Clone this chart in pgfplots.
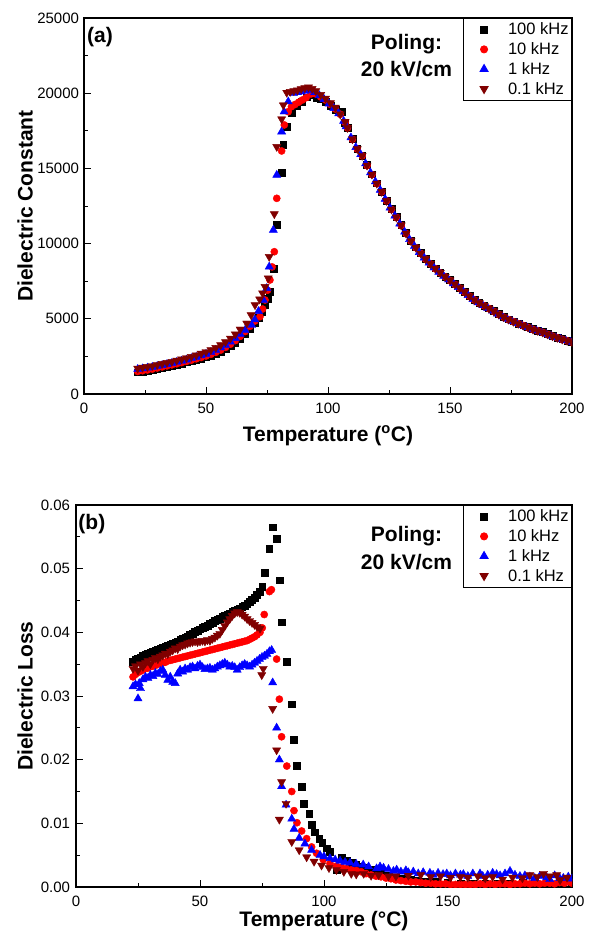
\documentclass[border=0pt]{standalone}
\usepackage{fontspec}
\setmainfont{Liberation Sans}
\usepackage{pgfplots}
\pgfplotsset{compat=1.18}
\definecolor{cred}{RGB}{255,0,0}
\definecolor{cblue}{RGB}{0,0,255}
\definecolor{cbrown}{RGB}{128,0,0}
\pgfplotsset{
  myaxis/.style={
    scale only axis,
    axis line style={line width=1.1pt},
    tick style={line width=0.9pt, black},
    tick align=inside,
    xtick pos=left, ytick pos=left,
    major tick length=7pt, minor tick length=4pt,
    minor x tick num=1, minor y tick num=1,
    xmin=0, xmax=200, xtick={0,50,100,150,200},
    tick label style={font=\fontsize{15}{18}\selectfont},
    /pgf/number format/assume math mode=true,
    xticklabel shift=5.5pt,
    label style={font=\bfseries\fontsize{21}{25}\selectfont},
    legend style={at={(1,1)}, anchor=north east, draw=black, line width=0.8pt,
      inner xsep=1pt, inner ysep=2.5pt, font=\fontsize{16.5}{20}\selectfont,
      nodes={inner sep=2pt}, row sep=2.3pt},
    legend cell align=left,
    legend image code/.code={\path[draw=none,fill=none] (0pt,0pt) -- (42pt,0pt); \draw[##1] plot coordinates {(20pt,0pt)};},
    clip marker paths=true,
  },
  sA/.style={only marks, mark=square*, mark size=3.4pt, draw=black, fill=black, mark options={solid, draw=black, fill=black}},
  sB/.style={only marks, mark=*, mark size=3.6pt, draw=cred, fill=cred, mark options={solid, draw=cred, fill=cred}},
  sC/.style={only marks, mark=triangle*, mark size=4.7pt, draw=cblue, fill=cblue, mark options={solid, draw=cblue, fill=cblue}},
  sD/.style={only marks, mark=triangle*, mark size=4.7pt, draw=cbrown, fill=cbrown, mark options={solid, draw=cbrown, fill=cbrown, rotate=180}},
}
\begin{document}
\begin{tikzpicture}
\useasboundingbox (0pt,0pt) rectangle (590pt,-931pt);
% ---------------- (a) ----------------
\begin{axis}[myaxis,
  at={(84pt,-394pt)}, anchor=south west,
  width=488pt, height=376pt,
  ymin=0, ymax=25000, ytick={0,5000,10000,15000,20000,25000},
  scaled y ticks=false,
  yticklabel style={/pgf/number format/1000 sep={}},
  yticklabel shift=1.5pt,
  xlabel={Temperature (\textsuperscript{o}C)},
  ylabel={Dielectric Constant},
  xlabel style={at={(axis description cs:0.5,0)}, anchor=base, yshift=-47pt},
  ylabel style={at={(axis description cs:-0.1209,0.5)}, anchor=center, rotate=0},
]
\addplot[sA] coordinates {
(22,1450)(24,1500)(26,1550)(28,1610)(30,1680)(32,1750)(34,1820)(36,1890)(38,1960)(40,2030)
(42,2110)(44,2190)(46,2270)(48,2360)(50,2450)(52,2560)(54,2680)(56,2820)(58,2990)(60,3190)
(62,3420)(64,3690)(66,4000)(68,4350)(70,4720)(71.5,5050)(73,5450)(74.2,5920)(75.2,6350)(76.2,6800)
(77.9,8310)(79.0,11240)(81.0,14710)(81.6,16560)(83.1,17770)(85.1,18700)(87.2,19150)(89.2,19440)
(91.3,19730)(93.3,19880)(95.3,19700)(97,19650)(99,19450)(101,19150)(103,18900)(105.6,18770)(107,18050)
(108,17720)(110,16980)(112,16320)(114,15870)(116,15220)(118,14620)(120,14020)(122,13470)(124,12870)
(126,12300)(128,11770)(130,11240)(132,10700)(134,10200)(136,9760)(138,9370)(140,9000)(142,8680)
(144,8360)(146,8080)(148,7820)(150,7580)(152,7320)(154,7070)(156,6800)(158,6530)(160,6280)
(162,6070)(164,5890)(166,5710)(168,5520)(170,5320)(172,5140)(174,4980)(176,4840)(178,4700)
(180,4580)(182,4450)(184,4320)(186,4220)(188,4120)(190,3990)(192,3870)(194,3760)(196,3660)
(198,3560)(200,3480)
};
\addlegendentry{100 kHz}
\addplot[sB] coordinates {
(22,1500)(24,1550)(26,1600)(28,1660)(30,1730)(32,1800)(34,1870)(36,1940)(38,2010)(40,2090)
(42,2170)(44,2250)(46,2340)(48,2430)(50,2530)(52,2640)(54,2770)(56,2920)(58,3100)(60,3310)
(62,3550)(64,3830)(66,4150)(68,4500)(70,4850)(72.1,5140)(73.2,5650)(74.2,6250)(75.2,6900)(76.2,7580)
(77.1,8450)(78.0,9460)(79.0,13010)(81.0,16160)(82.1,17890)(83.7,18770)(85,19100)(86.5,19250)
(88,19400)(89.5,19550)(91,19700)(93,19950)(95,19950)(97,19750)(99,19550)(101,19250)(103,18950)
(105,18600)(107,18050)
(108,17690)(110,16940)(112,16290)(114,15840)(116,15190)(118,14590)(120,13990)(122,13440)(124,12840)
(126,12270)(128,11740)(130,11210)(132,10670)(134,10170)(136,9730)(138,9340)(140,8970)(142,8650)
(144,8330)(146,8050)(148,7790)(150,7550)(152,7290)(154,7040)(156,6770)(158,6500)(160,6250)
(162,6040)(164,5860)(166,5680)(168,5490)(170,5290)(172,5110)(174,4950)(176,4810)(178,4670)
(180,4550)(182,4420)(184,4290)(186,4190)(188,4090)(190,3960)(192,3840)(194,3730)(196,3630)
(198,3530)(200,3450)
};
\addlegendentry{10 kHz}
\addplot[sC] coordinates {
(22,1650)(24,1690)(26,1740)(28,1790)(30,1850)(32,1910)(34,1980)(36,2050)(38,2120)(40,2200)
(42,2280)(44,2370)(46,2460)(48,2560)(50,2660)(52,2780)(54,2920)(56,3080)(58,3260)(60,3470)
(62,3710)(64,3990)(66,4250)(68.7,4580)(70,4950)(71.5,5500)(73.5,6250)(74.9,7030)(75.9,8460)
(77.6,10900)(79.0,14560)(81.0,17440)(82.0,18770)(83.7,19440)(85.8,19990)(87.5,20050)(89,20100)
(90.5,20150)(92.6,20210)(94.5,20050)(96.5,19850)(98.4,19600)(100.4,19300)(102.4,19000)(104.4,18650)(106.4,18150)
(107.4,17780)(109.4,17050)(111.4,16400)(113.4,15930)(115.4,15320)(117.4,14720)(119.4,14120)(121.4,13560)
(123.4,12960)(125.4,12380)(127.4,11850)(129.4,11320)(131.4,10780)(133.4,10280)(135.4,9830)(137.4,9420)
(139.4,9060)(141.4,8720)(143.4,8400)(145.4,8110)(147.4,7840)(149.4,7600)(151.4,7350)(153.4,7100)
(155.4,6830)(157.4,6560)(159.4,6300)(161.4,6080)(163.4,5890)(165.4,5720)(167.4,5530)(169.4,5330)
(171.4,5150)(173.4,4980)(175.4,4840)(177.4,4700)(179.4,4570)(181.4,4440)(183.4,4310)(185.4,4210)
(187.4,4110)(189.4,3980)(191.4,3860)(193.4,3750)(195.4,3650)(197.4,3550)(199.4,3450)
};
\addlegendentry{1 kHz}
\addplot[sD] coordinates {
(22,1700)(24,1760)(26,1810)(28,1870)(30,1940)(32,2010)(34,2080)(36,2150)(38,2230)(40,2310)
(42,2390)(44,2480)(46,2580)(48,2690)(50,2800)(52,2930)(54,3080)(56,3260)(58,3460)(60,3700)
(62,3980)(64,4300)(66.7,4700)(68.5,5250)(70.1,5920)(72,6300)(73.2,6700)(74.2,7130)(75.5,7700)
(75.9,9130)(78.0,11970)(79.0,16440)(81.0,18280)(81.7,19210)(83.1,20040)(84.5,20100)(86,20150)
(87.5,20200)(89,20280)(90.5,20350)(92,20400)(93.5,20300)(95,20150)(97,19900)(99,19650)(101,19350)
(103,19050)(105,18600)(107,18100)
(108,17700)(110,16950)(112,16300)(114,15850)(116,15200)(118,14600)(120,14000)(122,13450)(124,12850)
(126,12280)(128,11750)(130,11220)(132,10680)(134,10180)(136,9740)(138,9350)(140,8980)(142,8660)
(144,8340)(146,8060)(148,7800)(150,7560)(152,7300)(154,7050)(156,6780)(158,6510)(160,6260)
(162,6050)(164,5870)(166,5690)(168,5500)(170,5300)(172,5120)(174,4960)(176,4820)(178,4680)
(180,4560)(182,4430)(184,4300)(186,4200)(188,4100)(190,3970)(192,3850)(194,3740)(196,3640)
(198,3540)(200,3460)
};
\addlegendentry{0.1 kHz}
\node[anchor=base west, inner sep=0pt, font=\bfseries\fontsize{21}{25}\selectfont] at (axis description cs:0.006,0.9343) {(a)};
\node[anchor=base, inner sep=0pt, font=\bfseries\fontsize{21}{25}\selectfont] at (axis description cs:0.6609,0.9149) {Poling:};
\node[anchor=base, inner sep=0pt, font=\bfseries\fontsize{21}{25}\selectfont] at (axis description cs:0.6609,0.8439) {20 kV/cm};
\end{axis}
% ---------------- (b) ----------------
\begin{axis}[myaxis,
  at={(76pt,-887pt)}, anchor=south west,
  width=496pt, height=382pt,
  ymin=0, ymax=0.06, ytick={0,0.01,0.02,0.03,0.04,0.05,0.06},
  scaled y ticks=false,
  yticklabel style={/pgf/number format/.cd, fixed, fixed zerofill, precision=2},
  yticklabel shift=2.5pt,
  xlabel={Temperature (°C)},
  ylabel={Dielectric Loss},
  xlabel style={at={(axis description cs:0.5,0)}, anchor=base, yshift=-39pt},
  ylabel style={at={(axis description cs:-0.1028,0.5)}, anchor=center, rotate=0},
]
\addplot[sA] coordinates {
(23,0.0354)(24,0.0357)(25,0.0359)(26,0.0361)(27,0.0363)(28,0.0365)(29,0.0366)(30,0.0368)(31,0.0370)
(32,0.0371)(33,0.0373)(34,0.0374)(35,0.0376)(36,0.0377)(37,0.0379)(38,0.0381)(39,0.0383)(40,0.0384)
(41,0.0386)(42,0.0388)(43,0.0390)(44,0.0392)(45,0.0394)(46,0.0396)(47,0.0398)(48,0.0401)(49,0.0403)
(50,0.0405)(51,0.0407)(52,0.0409)(53,0.0411)(54,0.0413)(55,0.0415)(56,0.0418)(57,0.0420)(58,0.0422)
(59,0.0424)(60,0.0426)(61,0.0428)(62,0.0430)(63,0.0432)(64,0.0434)(65,0.0436)(66,0.0438)(67,0.0440)
(68,0.0442)(69,0.0445)(70,0.0448)(71,0.0451)(72,0.0455)(73,0.0459)(74,0.0464)(75.1,0.0472)(76.2,0.0494)
(77.9,0.0531)(79.2,0.0565)(80.9,0.0547)(82.0,0.0482)(82.9,0.0416)(84.8,0.0354)(87.0,0.0287)(87.9,0.0232)
(89.0,0.0190)(91.0,0.0157)(91.9,0.0131)(94.0,0.0115)(95.0,0.0098)(96.1,0.0086)(98.1,0.0076)(99.3,0.0070)
(101.1,0.0061)(102.4,0.0055)(105.1,0.0027)(107,0.0046)(109.2,0.0042)(111.2,0.0038)(113,0.0035)(115,0.0032)
(117,0.0030)(119,0.0027)(121,0.0024)(123,0.0021)(126,0.0018)(129,0.0015)(132,0.0013)(135,0.0011)
(138,0.0010)(141,0.0009)(145,0.0008)(150,0.0007)(155,0.0006)(160,0.0006)(165,0.0006)(170,0.0006)
(175,0.0006)(180,0.0007)(185,0.0007)(190,0.0007)(195,0.0008)(200,0.0008)
};
\addlegendentry{100 kHz}
\addplot[sB] coordinates {
(23,0.0330)(24,0.0334)(25,0.0337)(26,0.0339)(27,0.0341)(28,0.0343)(29,0.0344)(30,0.0346)(31,0.0347)
(32,0.0348)(33,0.0350)(34,0.0351)(35,0.0352)(36,0.0353)(37,0.0355)(38,0.0356)(39,0.0357)(40,0.0358)
(41,0.0359)(42,0.0360)(43,0.0361)(44,0.0362)(45,0.0363)(46,0.0364)(47,0.0365)(48,0.0366)(49,0.0367)
(50,0.0368)(51,0.0369)(52,0.0370)(53,0.0371)(54,0.0372)(55,0.0373)(56,0.0374)(57,0.0375)(58,0.0376)
(59,0.0377)(60,0.0378)(61,0.0379)(62,0.0380)(63,0.0381)(64,0.0382)(65,0.0383)(66,0.0384)(67,0.0385)
(68,0.0386)(69,0.0387)(70,0.0389)(71,0.0391)(72,0.0393)(73,0.0396)(74.2,0.0400)(75.1,0.0407)
(75.9,0.0428)(78.0,0.0464)(78.8,0.0467)(80.9,0.0358)(82.0,0.0295)(82.9,0.0236)(85.0,0.0190)
(87.0,0.0150)(87.9,0.0120)(89.1,0.0101)(91.0,0.0088)(93.0,0.0076)(95.0,0.0063)(97.0,0.0053)
(99.7,0.0043)(102.4,0.0037)(105,0.0033)(107,0.0031)(109,0.0029)(111,0.0027)(113,0.0026)(115,0.0024)
(117,0.0021)(119,0.0019)(121,0.0017)(123,0.0016)(125,0.0014)(127,0.0013)(129,0.0011)(131,0.0010)
(133,0.0009)(135,0.0008)(137,0.0008)(139,0.0007)(141,0.0006)(143,0.0006)(145,0.0005)(147,0.0005)
(149,0.0005)(151,0.0004)(153,0.0004)(155,0.0004)(157,0.0004)(159,0.0004)(161,0.0004)(163,0.0005)
(165,0.0004)(167,0.0005)(169,0.0004)(171,0.0005)(173,0.0005)(175,0.0004)(177,0.0005)(179,0.0005)
(181,0.0006)(183,0.0005)(185,0.0006)(187,0.0005)(189,0.0006)(191,0.0006)(193,0.0005)(195,0.0007)
(197,0.0006)(199,0.0008)(200,0.0006)
};
\addlegendentry{10 kHz}
\addplot[sC] coordinates {
(23,0.0315)(24,0.0318)(25,0.0296)(25.5,0.0320)(26,0.0312)(27,0.0326)(28,0.0330)(29,0.0328)(30,0.0333)
(31,0.0331)(32,0.0336)(33,0.0334)(34,0.0339)(35,0.0341)(36,0.0333)(37,0.0325)(38,0.0330)(39,0.0322)
(40,0.0320)(41,0.0335)(42,0.0341)(43,0.0338)(44,0.0343)(45,0.0341)(46,0.0345)(47,0.0346)(48,0.0343)
(49,0.0347)(50,0.0349)(51,0.0345)(52,0.0342)(53,0.0343)(54,0.0344)(55,0.0341)(56,0.0343)(57,0.0346)
(58,0.0348)(59,0.0350)(60,0.0352)(61,0.0349)(62,0.0346)(63,0.0347)(64,0.0345)(65,0.0341)(66,0.0345)
(67,0.0348)(68,0.0350)(69,0.0348)(70,0.0346)(71,0.0349)(72,0.0352)(73,0.0355)(74,0.0358)(75,0.0361)
(76,0.0363)(77,0.0366)(78,0.0370)(78.9,0.0372)(79.3,0.0321)(80.9,0.0250)(82.0,0.0200)(82.9,0.0158)
(84.7,0.0129)(87,0.0107)(87.9,0.0091)(90,0.0077)(92.3,0.0068)(95,0.0058)(98.4,0.0050)(100,0.0048)
(102.4,0.0045)(104.5,0.0043)(106.5,0.0041)(108.5,0.0039)(110.5,0.0038)(113,0.0036)(115.8,0.0035)
(118,0.0032)(121.2,0.0029)(122.6,0.0032)(124,0.0030)(126,0.0028)(128,0.0025)(129.3,0.0027)(131,0.0024)
(133,0.0026)(134,0.0023)(136,0.0024)(138,0.0021)(140,0.0023)(142.7,0.0022)(144,0.0019)(146,0.0022)
(148,0.0020)(149.5,0.0021)(151,0.0018)(153,0.0021)(155,0.0019)(156.2,0.0020)(158,0.0017)(160,0.0021)
(162.9,0.0021)(164,0.0017)(166,0.0019)(168,0.0022)(169.6,0.0020)(171,0.0018)(173,0.0021)(175,0.0025)
(177,0.0019)(179,0.0017)(181,0.0018)(183,0.0016)(185,0.0014)(187,0.0017)(189.8,0.0015)(191,0.0012)
(193,0.0018)(195,0.0014)(196.5,0.0014)(198.5,0.0016)(200,0.0013)
};
\addlegendentry{1 kHz}
\addplot[sD] coordinates {
(23,0.0343)(24,0.0347)(25,0.0340)(26,0.0350)(27,0.0346)(28,0.0352)(29,0.0355)(30,0.0350)(31,0.0357)
(32,0.0360)(33,0.0358)(34,0.0362)(35,0.0364)(36,0.0367)(37,0.0366)(38,0.0370)(39,0.0372)(40,0.0375)
(41,0.0374)(42,0.0378)(43,0.0380)(44,0.0381)(45,0.0383)(46,0.0384)(47,0.0385)(48,0.0386)(49,0.0385)
(50,0.0386)(51,0.0387)(52,0.0386)(53,0.0388)(54,0.0387)(55,0.0390)(56,0.0392)(57,0.0395)(58,0.0398)
(59,0.0404)(60,0.0410)(61,0.0416)(62,0.0421)(63,0.0426)(64,0.0430)(65,0.0432)(66,0.0431)(67,0.0428)
(68,0.0425)(69,0.0421)(70,0.0418)(71,0.0415)(72,0.0412)(73,0.0409)(74.2,0.0406)(74.9,0.0333)
(75.5,0.0343)(79.3,0.0280)(80.9,0.0215)(82.0,0.0106)(82.9,0.0165)(84.7,0.0131)(87.0,0.0071)
(90,0.0058)(93,0.0047)(96,0.0040)(99,0.0034)(102,0.0030)(105,0.0027)(108,0.0024)(111,0.0021)
(113,0.0020)(116,0.0021)(119,0.0018)(122,0.0019)(126,0.0017)(129,0.0017)(134,0.0018)(139,0.0019)
(143,0.0016)(147,0.0017)(151,0.0015)(155,0.0016)(158,0.0015)(162,0.0017)(165,0.0014)(168,0.0016)
(172,0.0012)(176,0.0015)(180,0.0014)(183,0.0019)(186,0.0016)(188.5,0.0021)(191,0.0017)(193.8,0.0019)
(195.2,0.0011)(198,0.0015)
};
\addlegendentry{0.1 kHz}
\node[anchor=base west, inner sep=0pt, font=\bfseries\fontsize{21}{25}\selectfont] at (axis description cs:0.0046,0.9364) {(b)};
\node[anchor=base, inner sep=0pt, font=\bfseries\fontsize{21}{25}\selectfont] at (axis description cs:0.6663,0.9039) {Poling:};
\node[anchor=base, inner sep=0pt, font=\bfseries\fontsize{21}{25}\selectfont] at (axis description cs:0.6663,0.8317) {20 kV/cm};
\end{axis}
\end{tikzpicture}
\end{document}
